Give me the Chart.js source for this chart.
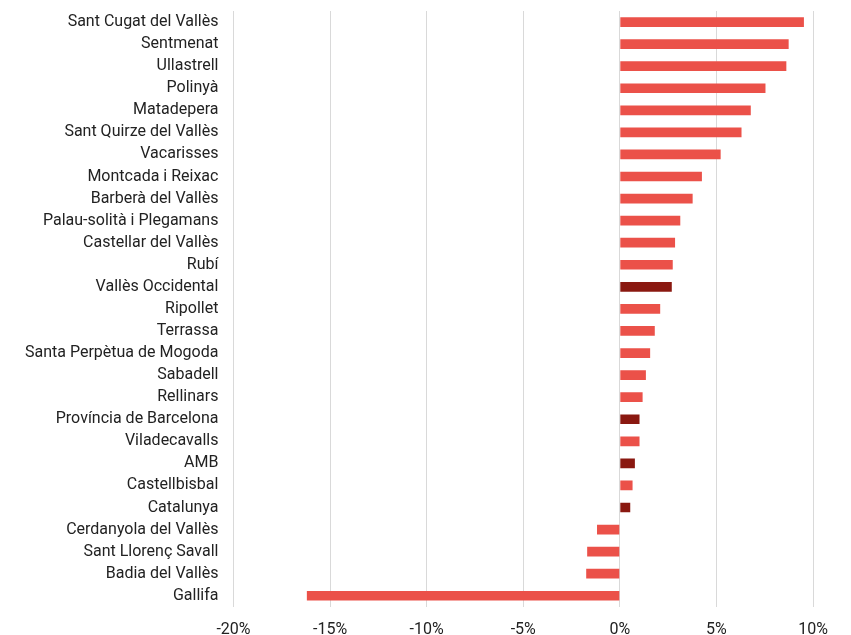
<!DOCTYPE html>
<html>
<head>
<meta charset="utf-8">
<script src="https://cdn.jsdelivr.net/npm/chart.js@4"></script>
<style>
  body { margin: 0; background: #fff; }
  #wrap { width: 851px; height: 635px; }
</style>
</head>
<body>
<div id="wrap"><canvas id="bar-chart" width="851" height="635"></canvas></div>
<script>
// municipis i valors (variació %)
var labels = [
  'Sant Cugat del Vallès', 'Sentmenat', 'Ullastrell', 'Polinyà', 'Matadepera',
  'Sant Quirze del Vallès', 'Vacarisses', 'Montcada i Reixac', 'Barberà del Vallès',
  'Palau-solità i Plegamans', 'Castellar del Vallès', 'Rubí', 'Vallès Occidental',
  'Ripollet', 'Terrassa', 'Santa Perpètua de Mogoda', 'Sabadell', 'Rellinars',
  'Província de Barcelona', 'Viladecavalls', 'AMB', 'Castellbisbal', 'Catalunya',
  'Cerdanyola del Vallès', 'Sant Llorenç Savall', 'Badia del Vallès', 'Gallifa'
];
var values = [
  9.53, 8.74, 8.62, 7.54, 6.78,
  6.30, 5.22, 4.25, 3.77,
  3.13, 2.86, 2.74, 2.69,
  2.09, 1.81, 1.57, 1.35, 1.18,
  1.02, 1.02, 0.78, 0.66, 0.54,
  -1.18, -1.69, -1.74, -16.2
];
// àmbits agregats (color fosc)
var aggregates = ['Vallès Occidental', 'Província de Barcelona', 'AMB', 'Catalunya'];

var colors = labels.map(function(l) {
  return aggregates.indexOf(l) >= 0 ? '#8a1810' : '#eb5149';
});

var eChart = document.getElementById('bar-chart');
var myChart = new Chart(eChart, {
  type: 'bar',
  data: {
    labels: labels,
    datasets: [{
      data: values,
      backgroundColor: colors,
      barPercentage: 0.44,
      categoryPercentage: 1
    }]
  },
  options: {
    indexAxis: 'y',
    responsive: false,
    animation: false,
    layout: { padding: { top: 11, right: 38, bottom: 0, left: 25 } },
    plugins: { legend: { display: false }, tooltip: { enabled: false } },
    scales: {
      x: {
        min: -20, max: 10,
        ticks: {
          stepSize: 5,
          padding: -5,
          color: '#222',
          font: { family: 'Roboto', size: 16 },
          callback: function(v) { return v + '%'; }
        },
        // tickLength sols fa d'espai, les marques són transparents
        grid: { color: '#d9d9d9', drawTicks: true, tickLength: 19, tickColor: 'rgba(0,0,0,0)' },
        border: { display: false }
      },
      y: {
        ticks: {
          padding: 0,
          color: '#222',
          font: { family: 'Roboto', size: 16 },
          autoSkip: false
        },
        grid: { display: false, drawTicks: true, tickLength: 15 },
        border: { display: false }
      }
    }
  }
});
</script>
</body>
</html>
